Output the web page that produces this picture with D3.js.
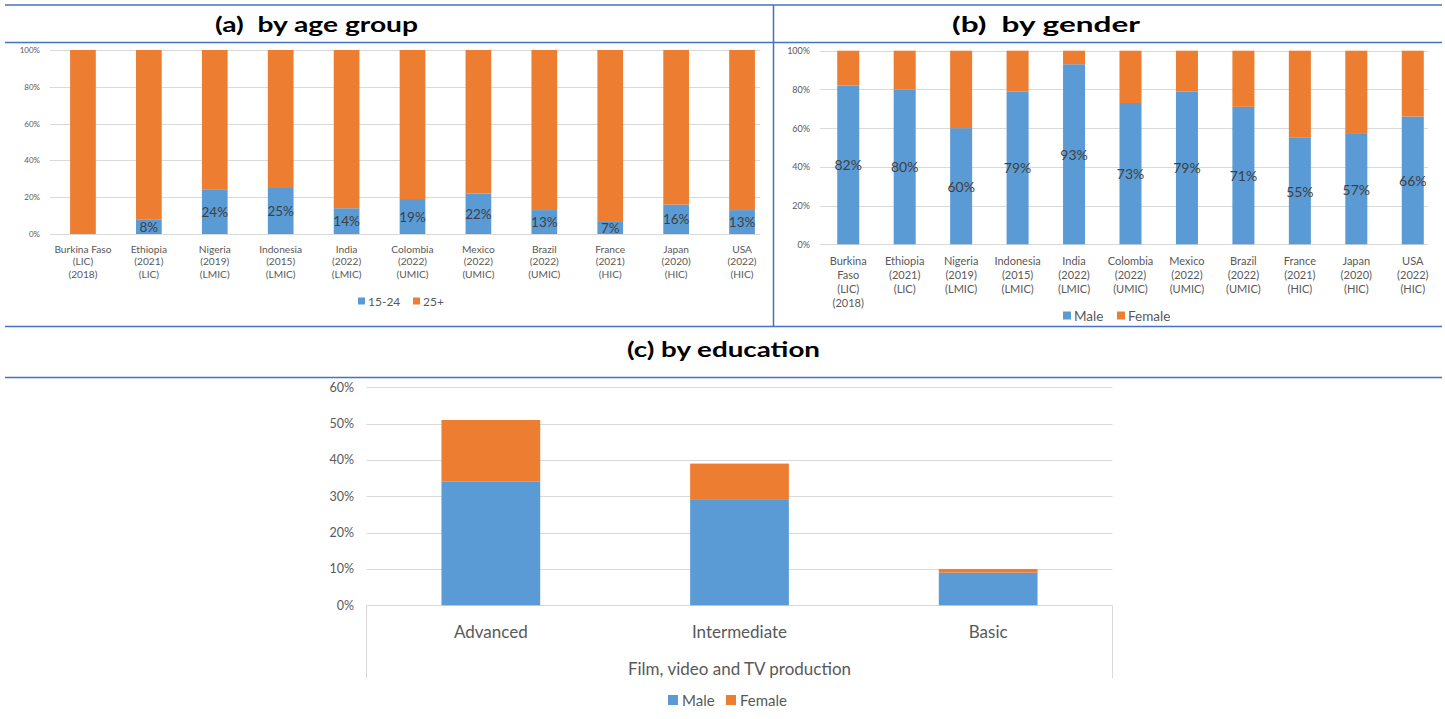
<!DOCTYPE html>
<html>
<head>
<meta charset="utf-8">
<script src="https://cdn.jsdelivr.net/npm/d3@7"></script>
<style>
  html, body { margin: 0; padding: 0; background: #ffffff; }
  svg { display: block; font-family: Lato, "Open Sans", sans-serif; }
</style>
</head>
<body>
<svg id="chart" width="1445" height="719"></svg>
<script>
// ---- data ----
const countryLinesA = [
  ["Burkina Faso", "(LIC)", "(2018)"],
  ["Ethiopia", "(2021)", "(LIC)"],
  ["Nigeria", "(2019)", "(LMIC)"],
  ["Indonesia", "(2015)", "(LMIC)"],
  ["India", "(2022)", "(LMIC)"],
  ["Colombia", "(2022)", "(UMIC)"],
  ["Mexico", "(2022)", "(UMIC)"],
  ["Brazil", "(2022)", "(UMIC)"],
  ["France", "(2021)", "(HIC)"],
  ["Japan", "(2020)", "(HIC)"],
  ["USA", "(2022)", "(HIC)"]
];
const countryLinesB = [
  ["Burkina", "Faso", "(LIC)", "(2018)"],
  ["Ethiopia", "(2021)", "(LIC)"],
  ["Nigeria", "(2019)", "(LMIC)"],
  ["Indonesia", "(2015)", "(LMIC)"],
  ["India", "(2022)", "(LMIC)"],
  ["Colombia", "(2022)", "(UMIC)"],
  ["Mexico", "(2022)", "(UMIC)"],
  ["Brazil", "(2022)", "(UMIC)"],
  ["France", "(2021)", "(HIC)"],
  ["Japan", "(2020)", "(HIC)"],
  ["USA", "(2022)", "(HIC)"]
];
const age1524 = [0, 8, 24, 25, 14, 19, 22, 13, 7, 16, 13];
const age25plus = [100, 92, 76, 75, 86, 81, 78, 87, 93, 84, 87];
const genderMale = [82, 80, 60, 79, 93, 73, 79, 71, 55, 57, 66];
const genderFemale = [18, 20, 40, 21, 7, 27, 21, 29, 45, 43, 34];
const eduLevels = ["Advanced", "Intermediate", "Basic"];
const eduMale = [34, 29, 9];
const eduFemale = [17, 10, 1];
const pctTicksAB = [0, 20, 40, 60, 80, 100];
const pctTicksC = [0, 10, 20, 30, 40, 50, 60];
const eduGroupTitle = "Film, video and TV production";

const BLUE = "#5B9BD5", ORANGE = "#ED7D31", GRID = "#D9D9D9";
const TICK = "#595959", LABEL = "#404040", RULE = "#4472C4";

const svg = d3.select("#chart");

// ---- table rules ----
const rules = svg.append("g").attr("stroke", RULE).attr("stroke-width", 1.5);
rules.append("line").attr("x1", 5).attr("x2", 1442).attr("y1", 5).attr("y2", 5);
rules.append("line").attr("x1", 5).attr("x2", 1442).attr("y1", 42.5).attr("y2", 42.5);
rules.append("line").attr("x1", 5).attr("x2", 1442).attr("y1", 326.5).attr("y2", 326.5);
rules.append("line").attr("x1", 5).attr("x2", 1442).attr("y1", 377.5).attr("y2", 377.5);
rules.append("line").attr("x1", 773.5).attr("x2", 773.5).attr("y1", 5).attr("y2", 326.5);

// ---- panel titles (wide bold heading face) ----
const titles = [
  { t: "(a)  by age group", x: 316.5, y: 32, w: 203 },
  { t: "(b)  by gender", x: 1046, y: 32, w: 188 },
  { t: "(c) by education", x: 723.5, y: 357, w: 193 }
];
svg.append("g").selectAll("text").data(titles).join("text")
  .attr("x", d => d.x).attr("y", d => d.y)
  .attr("text-anchor", "middle")
  .attr("font-weight", "bold").attr("font-size", 20.5).attr("fill", "#000")
  .attr("textLength", d => d.w).attr("lengthAdjust", "spacingAndGlyphs")
  .style("white-space", "pre")
  .text(d => d.t);

// ---- stacked 100% country panel ----
function countryPanel(opt) {
  const g = svg.append("g");
  const n = opt.lower.length;
  const x = d3.scaleBand().domain(d3.range(n)).range(opt.xRange).paddingInner(0.61).paddingOuter(0.305);
  const y = d3.scaleLinear().domain([0, 100]).range(opt.yRange);

  // gridlines
  g.append("g").selectAll("line").data(pctTicksAB).join("line")
    .attr("x1", opt.xRange[0]).attr("x2", opt.gridEnd)
    .attr("y1", d => Math.round(y(d)) + 0.5).attr("y2", d => Math.round(y(d)) + 0.5)
    .attr("stroke", GRID).attr("stroke-width", 1);

  // y axis labels
  const yAxis = d3.axisLeft(y).tickValues(pctTicksAB).tickFormat(d => d + "%").tickSize(0).tickPadding(0);
  const ya = g.append("g").attr("transform", `translate(${opt.tickRight},0)`).call(yAxis);
  ya.select(".domain").remove();
  ya.selectAll("text").attr("font-size", opt.tickSize).attr("fill", TICK).attr("font-family", "Lato");

  // stacked bars
  const rows = d3.range(n).map(i => ({ i, lower: opt.lower[i], upper: opt.upper[i] }));
  const series = d3.stack().keys(["lower", "upper"])(rows);
  const colors = [BLUE, ORANGE];
  series.forEach((s, k) => {
    g.append("g").attr("fill", colors[k]).selectAll("rect").data(s).join("rect")
      .attr("x", d => x(d.data.i)).attr("width", x.bandwidth())
      .attr("y", d => y(d[1])).attr("height", d => y(d[0]) - y(d[1]));
  });

  // data labels centred in the lower segment
  g.append("g").selectAll("text").data(series[0].filter(d => d.data.lower > 0)).join("text")
    .attr("x", d => x(d.data.i) + x.bandwidth() / 2)
    .attr("y", d => (y(d[0]) + y(d[1])) / 2)
    .attr("text-anchor", "middle").attr("dominant-baseline", "central")
    .attr("font-size", opt.labelSize).attr("fill", LABEL)
    .text(d => d.data.lower + "%");

  // category labels
  const cat = g.append("g").selectAll("text").data(opt.cats).join("text")
    .attr("x", (d, i) => x(i) + x.bandwidth() / 2)
    .attr("y", opt.catTop)
    .attr("text-anchor", "middle").attr("font-size", opt.catSize).attr("fill", TICK);
  cat.selectAll("tspan").data(d => d).join("tspan")
    .attr("x", function () { return this.parentNode.getAttribute("x"); })
    .attr("dy", (d, j) => j === 0 ? 0 : opt.catLine)
    .attr("dominant-baseline", "central")
    .text(d => d);

  // legend
  const lg = g.append("g");
  opt.legend.forEach((item, k) => {
    lg.append("rect").attr("x", item.x).attr("y", opt.legendY - opt.legendBox / 2)
      .attr("width", opt.legendBox).attr("height", opt.legendBox).attr("fill", colors[k]);
    lg.append("text").attr("x", item.x + opt.legendBox + 3).attr("y", opt.legendY)
      .attr("dominant-baseline", "central").attr("font-size", opt.legendSize).attr("fill", TICK)
      .text(item.t);
  });
}

countryPanel({
  lower: age1524, upper: age25plus, cats: countryLinesA,
  xRange: [50, 775], gridEnd: 760, yRange: [234, 50], tickRight: 40, tickSize: 8,
  labelSize: 13.5,
  catTop: 249, catSize: 10.2, catLine: 12.3,
  legend: [{ t: "15-24", x: 358 }, { t: "25+", x: 413 }], legendY: 301, legendBox: 7, legendSize: 12
});

countryPanel({
  lower: genderMale, upper: genderFemale, cats: countryLinesB,
  xRange: [820, 1441], gridEnd: 1428, yRange: [244.3, 50.7], tickRight: 810, tickSize: 9,
  labelSize: 14,
  catTop: 260, catSize: 11, catLine: 14.3,
  legend: [{ t: "Male", x: 1063 }, { t: "Female", x: 1117 }], legendY: 315.5, legendBox: 8, legendSize: 13.5
});

// ---- education panel ----
(function eduPanel() {
  const g = svg.append("g");
  const x = d3.scaleBand().domain(eduLevels).range([366.5, 1112.5]).paddingInner(0.603).paddingOuter(0.3015);
  const y = d3.scaleLinear().domain([0, 60]).range([605.3, 387.3]);

  g.append("g").selectAll("line").data(pctTicksC).join("line")
    .attr("x1", 366.5).attr("x2", 1112.5)
    .attr("y1", d => Math.round(y(d)) + 0.5).attr("y2", d => Math.round(y(d)) + 0.5)
    .attr("stroke", GRID).attr("stroke-width", 1);

  // category axis frame
  const y0 = Math.round(y(0)) + 0.5;
  g.append("line").attr("x1", 366.5).attr("x2", 366.5).attr("y1", y0).attr("y2", 678).attr("stroke", GRID);
  g.append("line").attr("x1", 1112.5).attr("x2", 1112.5).attr("y1", y0).attr("y2", 678).attr("stroke", GRID);

  const yAxis = d3.axisLeft(y).tickValues(pctTicksC).tickFormat(d => d + "%").tickSize(0).tickPadding(0);
  const ya = g.append("g").attr("transform", "translate(354,0)").call(yAxis);
  ya.select(".domain").remove();
  ya.selectAll("text").attr("font-size", 12.5).attr("fill", TICK).attr("font-family", "Lato");

  const rows = eduLevels.map((lvl, i) => ({ lvl, male: eduMale[i], female: eduFemale[i] }));
  const series = d3.stack().keys(["male", "female"])(rows);
  const colors = [BLUE, ORANGE];
  series.forEach((s, k) => {
    g.append("g").attr("fill", colors[k]).selectAll("rect").data(s).join("rect")
      .attr("x", d => x(d.data.lvl)).attr("width", x.bandwidth())
      .attr("y", d => y(d[1])).attr("height", d => y(d[0]) - y(d[1]));
  });

  g.append("g").selectAll("text").data(eduLevels).join("text")
    .attr("x", d => x(d) + x.bandwidth() / 2).attr("y", 631)
    .attr("text-anchor", "middle").attr("dominant-baseline", "central")
    .attr("font-size", 17).attr("fill", TICK).text(d => d);

  g.append("text").attr("x", x("Intermediate") + x.bandwidth() / 2).attr("y", 668)
    .attr("text-anchor", "middle").attr("dominant-baseline", "central")
    .attr("font-size", 17).attr("fill", TICK).text(eduGroupTitle);

  const legend = [{ t: "Male", x: 668 }, { t: "Female", x: 726 }];
  legend.forEach((item, k) => {
    g.append("rect").attr("x", item.x).attr("y", 700 - 5).attr("width", 10).attr("height", 10).attr("fill", colors[k]);
    g.append("text").attr("x", item.x + 14).attr("y", 700).attr("dominant-baseline", "central")
      .attr("font-size", 15).attr("fill", TICK).text(item.t);
  });
})();
</script>
</body>
</html>
